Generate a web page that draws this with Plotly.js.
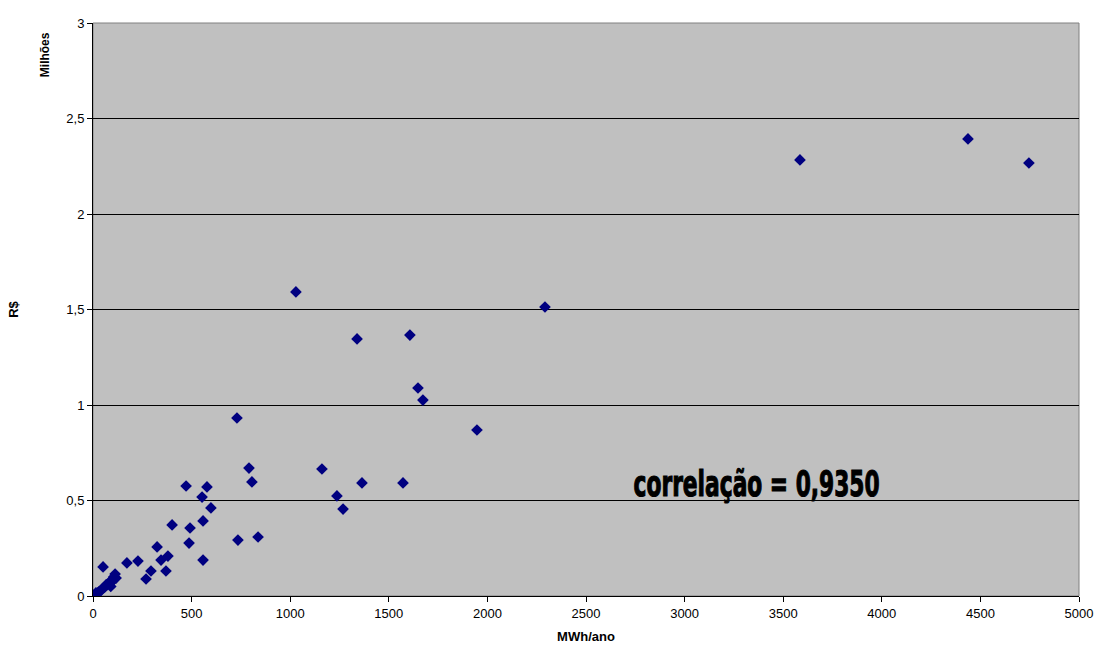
<!DOCTYPE html>
<html><head><meta charset="utf-8">
<script src="https://cdn.plot.ly/plotly-3.0.1.min.js"></script>
<style>body{margin:0;background:#fff}#c{width:1100px;height:648px}</style>
</head><body><div id="c"></div>
<script>
// Energia consumida (MWh/ano)
const mwh = [3585, 4437, 4746, 2292, 1029, 1339, 1607, 1648, 1673, 1947,
  730, 791, 806, 1161, 1237, 1268, 1364, 1572, 472, 578,
  553, 598, 558, 401, 492, 487, 735, 837, 325, 345,
  380, 558, 172, 228, 51, 294, 370, 269,
  112, 117, 101, 86, 66, 51, 35, 15, 5, 20, 28, 42, 58, 72, 80, 95, 105, 90];
// Custo (R$ milhões)
const reais = [2.283, 2.393, 2.267, 1.513, 1.592, 1.346, 1.366, 1.089, 1.026, 0.869,
  0.932, 0.670, 0.597, 0.665, 0.524, 0.455, 0.592, 0.592, 0.576, 0.571,
  0.518, 0.461, 0.393, 0.372, 0.356, 0.277, 0.293, 0.309, 0.257, 0.188,
  0.209, 0.188, 0.173, 0.183, 0.152, 0.131, 0.131, 0.089,
  0.115, 0.094, 0.084, 0.068, 0.058, 0.042, 0.026, 0.016, 0.005, 0.012, 0.020, 0.030, 0.045, 0.060, 0.070, 0.075, 0.100, 0.050];
const xTicks = [0, 500, 1000, 1500, 2000, 2500, 3000, 3500, 4000, 4500, 5000];
const yTicks = [0, 0.5, 1, 1.5, 2, 2.5, 3];
const yTickText = ['0', '0,5', '1', '1,5', '2', '2,5', '3'];
const corrText = 'correlação = 0,9350';

const trace = {
  x: mwh, y: reais, type: 'scatter', mode: 'markers',
  marker: {symbol: 'diamond', color: '#000080', size: 9, line: {width: 0}},
  hoverinfo: 'x+y', showlegend: false
};
const layout = {
  width: 1100, height: 648,
  margin: {l: 93, r: 21, t: 23, b: 52},
  paper_bgcolor: '#ffffff', plot_bgcolor: '#c0c0c0',
  separators: ',.',
  font: {family: 'Arial, Liberation Sans, sans-serif', size: 13, color: '#000'},
  xaxis: {
    range: [0, 5000], tickvals: xTicks, ticks: 'outside', ticklen: 5, tickcolor: '#000',
    showgrid: false, zeroline: false, showline: true, linecolor: '#000', linewidth: 1,
    mirror: false,
    title: {text: '<b>MWh/ano</b>', font: {size: 13}, standoff: 12}
  },
  yaxis: {
    range: [0, 3], tickvals: yTicks, ticktext: yTickText, ticks: 'outside', ticklen: 5, tickcolor: '#000',
    showgrid: true, gridcolor: '#000', gridwidth: 1, zeroline: false,
    showline: true, linecolor: '#000', linewidth: 1,
    title: {text: '<b>R$</b>', font: {size: 13}, standoff: 44}
  },
  shapes: [
    {type: 'rect', xref: 'paper', yref: 'paper', x0: 0, x1: 1, y0: 0, y1: 1,
     line: {color: '#808080', width: 1}, fillcolor: 'rgba(0,0,0,0)', layer: 'below'}
  ],
  annotations: [
    {text: '<b>Milhões</b>', xref: 'paper', yref: 'paper', x: -0.049, y: 0.945,
     textangle: -90, showarrow: false, font: {size: 12}, xanchor: 'center', yanchor: 'middle'},
    {text: '<b>' + corrText + '</b>', xref: 'x', yref: 'y', x: 3365, y: 0.59,
     showarrow: false, xanchor: 'center', yanchor: 'middle',
     font: {family: 'DejaVu Sans, sans-serif', size: 36, color: '#000'}}
  ]
};
Plotly.newPlot('c', [trace], layout, {displayModeBar: false, staticPlot: true}).then(function (gd) {
  // condense and embolden the correlation label, like a narrow heavy face
  gd.querySelectorAll('.annotation-text').forEach(function (t) {
    if (t.textContent.indexOf('correla') === 0) {
      t.setAttribute('textLength', '246');
      t.setAttribute('lengthAdjust', 'spacingAndGlyphs');
      t.style.stroke = '#000';
      t.style.strokeWidth = '1.2px';
    }
  });
});
</script></body></html>
